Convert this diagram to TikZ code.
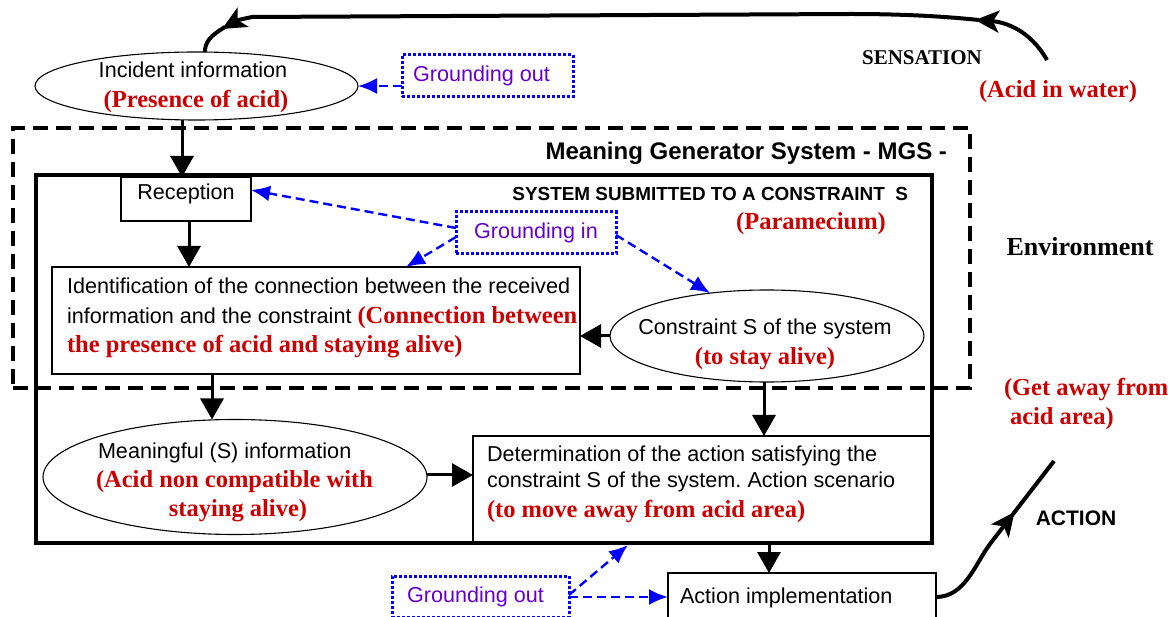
\documentclass[tikz,border=0pt]{standalone}
\usepackage{fontspec}
\setmainfont{Liberation Sans}
\newfontfamily\tnr{Liberation Serif}
\usetikzlibrary{shapes.geometric,arrows.meta,calc}
\definecolor{myred}{RGB}{204,0,0}
\definecolor{mypurple}{RGB}{102,0,204}
\definecolor{myblue}{RGB}{0,0,255}
\frenchspacing

\begin{document}
\begin{tikzpicture}[x=1pt,y=-1pt,
  every node/.style={inner sep=0pt, outer sep=0pt},
  sf/.style={font=\fontsize{21.6}{25}\selectfont, anchor=base},
  sfl/.style={font=\fontsize{21.6}{25}\selectfont, anchor=base west},
  rd/.style={text=myred, font=\tnr\bfseries\fontsize{24.5}{28}\selectfont, anchor=base},
  rdl/.style={text=myred, font=\tnr\bfseries\fontsize{24.5}{28}\selectfont, anchor=base west},
  thinbox/.style={draw, rectangle, line width=1.1pt},
  oval/.style={draw, ellipse, line width=1.1pt},
  gbox/.style={draw=myblue, rectangle, line width=3pt, dash pattern=on 2.6pt off 2.4pt,
               text=mypurple, font=\fontsize{21.6}{25}\selectfont},
  flow/.style={line width=3pt, -{Triangle[length=21pt,width=23pt]}},
  ground/.style={myblue, line width=2.4pt, dash pattern=on 9pt off 5pt,
                 -{Latex[length=19pt,width=16pt]}},
  loopline/.style={line width=4pt},
  loophead/.style={line width=4pt, -{Stealth[length=24pt,width=22pt,inset=6pt]}}
]
\useasboundingbox (0,0) rectangle (1168,617);
\clip (0,0) rectangle (1168,617);

% ---------- containers ----------
\node[draw, rectangle, line width=3.5pt, dash pattern=on 15pt off 8pt,
      minimum width=957pt, minimum height=260pt] (mgs) at (491.5,258) {};
\node[font=\bfseries\fontsize{24}{28}\selectfont, anchor=base east] (mgsT) at (947,160)
  {Meaning Generator System - MGS -};

% ---------- incident information ----------
\node[oval, minimum width=323pt, minimum height=68pt] (inc) at (196.5,86) {};
\node[sf] (inc1) at (193,78) {Incident information};
\node[rd] (inc2) at (196,108) {(Presence of acid)};

\node[gbox, minimum width=171pt, minimum height=42pt] (gout1) at (487.5,76) {Grounding out\kern12pt};

% ---------- inner boxes ----------
\node[thinbox, minimum width=130pt, minimum height=44pt] (rec) at (186,199) {};
\node[sf] (recT) at (186,200) {Reception};

\node[thinbox, minimum width=528pt, minimum height=107pt] (ident) at (316,320.5) {};
\node[sfl] (id1) at (67,294) {Identification of the connection between the received};
\node[sfl] (id2) at (67,324) {information and the constraint
  {\color{myred}\tnr\bfseries\fontsize{24.5}{28}\selectfont(Connection between}};
\node[rdl] (id3) at (67,353) {the presence of acid and staying alive)};

\node[gbox, minimum width=160pt, minimum height=42pt] (gin) at (536,233) {Grounding in};

\node[oval, minimum width=314pt, minimum height=92pt] (con) at (767,336) {};
\node[sf] (con1) at (765,335) {Constraint S of the system};
\node[rd] (con2) at (765,365) {(to stay alive)};

\node[oval, minimum width=384pt, minimum height=115pt] (mean) at (235,477) {};
\node[sfl] (mean1) at (98,459) {Meaningful (S) information};
\node[rd] (mean2) at (234.5,488) {(Acid non compatible with};
\node[rd] (mean3) at (238,517) {staying alive)};

\node[thinbox, minimum width=459pt, minimum height=107pt] (det) at (702.5,489.5) {};
\node[sfl] (det1) at (487,462) {Determination of the action satisfying the};
\node[sfl] (det2) at (487,488) {constraint S of the system. Action scenario};
\node[rdl] (det3) at (487,518) {(to move away from acid area)};

% system frame drawn over the inner boxes
\node[draw, rectangle, line width=4pt, minimum width=896pt, minimum height=368pt] (sys) at (484,359) {};
\node[font=\bfseries\fontsize{18.9}{22}\selectfont, anchor=base east] (sysT) at (908,200.5)
  {SYSTEM SUBMITTED TO A CONSTRAINT\ \ S};
\node[rd] (sysP) at (811,230) {(Paramecium)};

% ---------- action ----------
\node[thinbox, minimum width=268pt, minimum height=52pt] (act) at (802,599) {};
\node[sfl] (actT) at (680,603) {Action implementation};
\node[gbox, minimum width=177pt, minimum height=41pt] (gout2) at (480.5,596.5) {Grounding out\kern10pt};

% ---------- environment labels ----------
\node[font=\tnr\bfseries\fontsize{21}{25}\selectfont, anchor=base] (sens) at (922,65) {SENSATION};
\node[rd] (water) at (1058,98) {(Acid in water)};
\node[font=\tnr\bfseries\fontsize{26}{30}\selectfont, anchor=base] (env) at (1080,256) {Environment};
\node[rdl] (get1) at (1004,396) {(Get away from};
\node[rdl] (get2) at (1010,425) {acid area)};
\node[font=\bfseries\fontsize{21}{25}\selectfont, anchor=base] (actL) at (1076,525.5) {ACTION};

% ---------- main flow ----------
\draw[flow] (inc.south -| 182,0) -- (rec.north -| 182,0);
\draw[flow] (rec.south -| 189,0) -- (ident.north -| 189,0);
\draw[flow] (con.west |- 0,336) -- (ident.east |- 0,336);
\draw[flow] (ident.south -| 212,0) -- (mean.north -| 212,0);
\draw[flow] (mean.east |- 0,475) -- (det.west |- 0,475);
\draw[flow] (con.south -| 764,0) -- (det.north -| 764,0);
\draw[flow] (det.south -| 769,0) -- (act.north -| 769,0);

% ---------- grounding links ----------
\draw[ground] ($(gout1.south west)+(0,-11)$) -- (inc.east);
\draw[ground] ($(gin.north west)+(0,16)$) -- ($(rec.east)+(0,-9)$);
\draw[ground] ($(gin.north west)+(0,25)$) -- ($(ident.north west)+(354,0)$);
\draw[ground] ($(gin.north east)+(0,23)$) -- (con.143);
\draw[ground] ($(gout2.north east)+(0,19)$) -- ($(det.south west)+(155,2)$);
\draw[ground] ($(gout2.north east)+(0,21)$) -- ($(act.north west)+(0,24)$);

% ---------- sensation loop (environment -> incident information) ----------
\coordinate (sensA) at (1047,60);
\coordinate (sensTip) at (975,20);
\coordinate (incTip) at (222,29);
\draw[loophead] (sensA) .. controls (1030,30) and (1005,22) .. (sensTip);
\draw[loophead] ($(sensTip)+(4,0)$) .. controls (940,16) and (900,14) .. (850,14) -- (252,17)
                .. controls (238,20) .. (incTip);
\draw[loopline] ($(incTip)+(3,-2)$) .. controls (210,36) and (205,42) .. (inc.76);

% ---------- action loop (action implementation -> environment) ----------
\coordinate (actTip) at (1014.6,512);
\coordinate (actEnd) at (1054,461);
\draw[loophead] ($(act.north east)+(0,24)$) .. controls (965,597) and (975,564) .. (990,544) -- (actTip);
\draw[loopline] ($(actTip)!-5pt!(actEnd)$) -- (actEnd);
\end{tikzpicture}
\end{document}
